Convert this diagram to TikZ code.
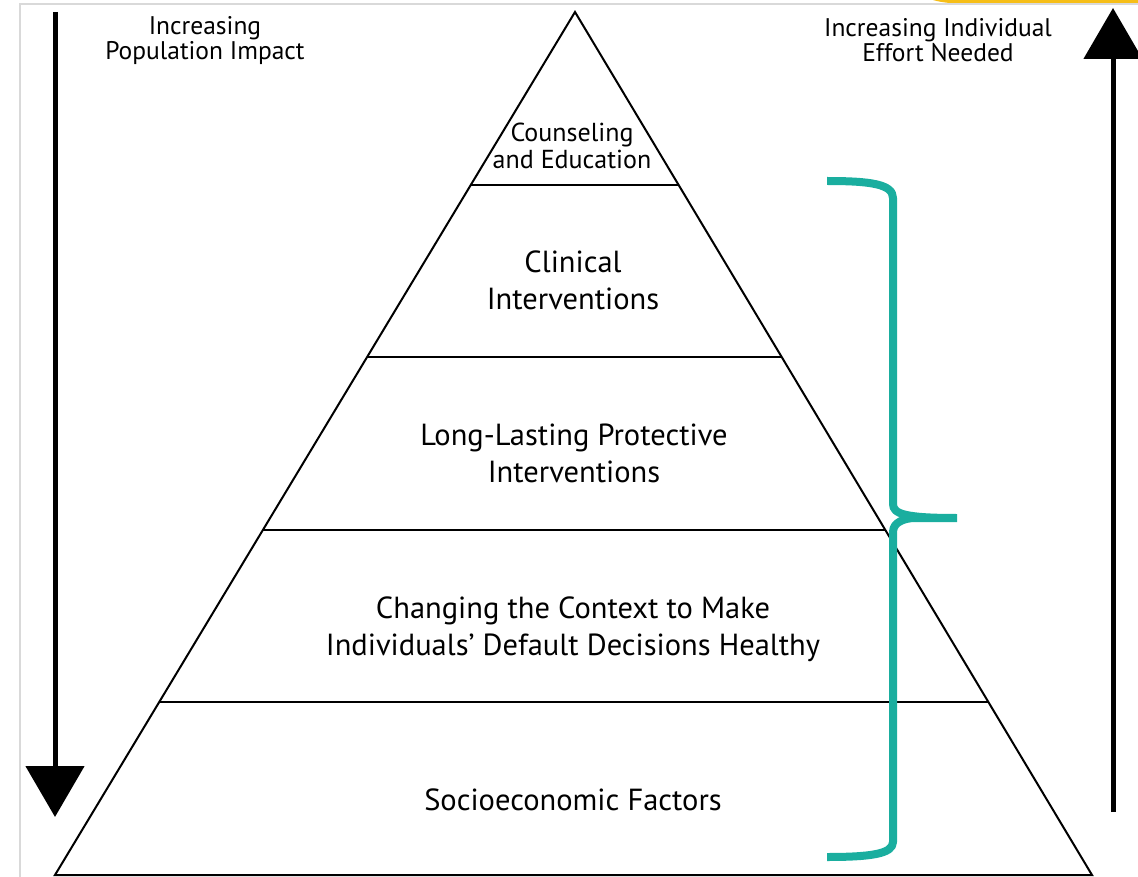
\documentclass[tikz,border=0pt]{standalone}
\usepackage{fontspec}
\setmainfont{PT Sans}
\usetikzlibrary{calc, positioning, arrows.meta}
\definecolor{bracketteal}{HTML}{1AAE9F}
\definecolor{slideyellow}{HTML}{F6BE17}

\begin{document}
\begin{tikzpicture}[
  x=1pt, y=-1pt,
  layer/.style={line width=2pt},
  tierlabel/.style={align=center, inner sep=0pt, font=\fontsize{30.5}{37}\selectfont},
  toplabel/.style={align=center, inner sep=0pt, font=\fontsize{26}{27}\selectfont},
  sidelabel/.style={align=center, inner sep=0pt, font=\fontsize{25.5}{25}\selectfont},
  bigarrow/.style={line width=5pt, -{Triangle[width=58pt,length=51pt]}},
  brace/.style={draw=bracketteal, line width=8pt, line join=round}
]
\useasboundingbox (0,0) rectangle (1138,877);

\fill[slideyellow] (930,-1) -- (1140,-1) -- (1140,4) -- (975,4) .. controls (950,4) and (938,2) .. (930,-1);
\draw[gray!30, line width=2pt] (20,877) -- (20,4) -- (1138,4);

\coordinate (apex) at (575,12);
\coordinate (baseL) at (55,875);
\coordinate (baseR) at (1092,875);
\draw[layer, line join=miter] (apex) -- (baseL) -- (baseR) -- cycle;

\foreach \t in {0.2,0.4,0.6,0.8}
  \draw[layer] ($(apex)!\t!(baseL)$) -- ($(apex)!\t!(baseR)$);

\node[toplabel] (counsel) at (572,146) {Counseling\\and Education};
\node[tierlabel] (clinical) at (573,280) {Clinical\\Interventions};
\node[tierlabel] (protect) at (574,453) {Long-Lasting Protective\\Interventions};
\node[tierlabel] (context) at (573,629) {Changing the Context to Make\\Individuals’ Default Decisions Healthy};
\node[tierlabel] (socio) at (573,800) {Socioeconomic Factors};

\node[sidelabel] (popimpact) at (205,41) {Increasing\\Population Impact};
\node[sidelabel] (effort) at (938,40) {Increasing Individual\\Effort Needed};

\coordinate (downstart) at (55,12);
\coordinate (downend) at (55,817);
\coordinate (upstart) at (1113,812);
\coordinate (upend) at (1113,8);
\draw[bigarrow] (downstart) -- (downend);
\draw[bigarrow] (upstart) -- (upend);

\coordinate (bracetop) at (827,181);
\coordinate (bracetip) at (957,518);
\coordinate (bracebot) at (827,857);
\draw[brace] (bracetop) .. controls (870,181) and (893,184) .. (893,198)
  -- (893,504) .. controls (893,514) and (905,518) .. (bracetip)
  (bracetip) -- (915,518) .. controls (905,518) and (893,522) .. (893,532)
  -- (893,842) .. controls (893,854) and (870,857) .. (bracebot);
\end{tikzpicture}
\end{document}
